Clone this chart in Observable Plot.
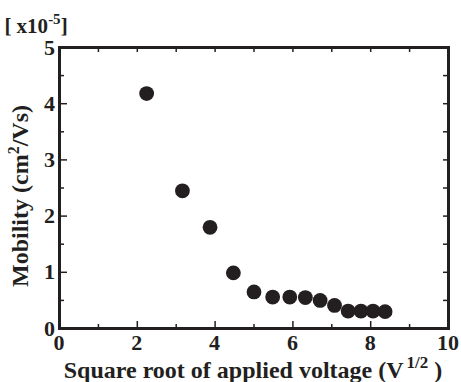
<!DOCTYPE html>
<html>
<head>
<meta charset="utf-8">
<script src="https://cdn.jsdelivr.net/npm/d3@7"></script>
<script src="https://cdn.jsdelivr.net/npm/@observablehq/plot@0.6"></script>
<style>
  html, body { margin: 0; padding: 0; background: #fff; }
  svg text { font-family: "Liberation Serif", "Times New Roman", serif; font-weight: bold; }
</style>
</head>
<body>
<div id="chart"></div>
<script>
// Square root of applied voltage (V^1/2)
const sqrtVoltage = [2.24, 3.16, 3.87, 4.47, 5.00, 5.48, 5.92, 6.32, 6.70, 7.07, 7.42, 7.75, 8.06, 8.37];
// Mobility in units of 1e-5 cm^2/Vs
const mobility = [4.18, 2.45, 1.80, 0.99, 0.65, 0.56, 0.56, 0.55, 0.50, 0.41, 0.31, 0.31, 0.31, 0.30];
const xTickLabels = [0, 2, 4, 6, 8, 10];
const yTickLabels = [0, 1, 2, 3, 4, 5];
const xMinorTicks = [1, 3, 5, 7, 9];
const yMinorTicks = [0.5, 1.5, 2.5, 3.5, 4.5];
const xAllTicks = [0, 1, 2, 3, 4, 5, 6, 7, 8, 9, 10];
const yAllTicks = [0, 0.5, 1, 1.5, 2, 2.5, 3, 3.5, 4, 4.5, 5];

const W = 461, H = 382, mL = 59, mR = 13, mT = 47, mB = 54;
const plotW = W - mL - mR, plotH = H - mT - mB;
const data = sqrtVoltage.map((x, i) => ({x, y: mobility[i]}));
const ink = "#231f20";
const tk = {stroke: ink, strokeWidth: 1.5};

const chart = Plot.plot({
  width: W,
  height: H,
  marginLeft: mL,
  marginRight: mR,
  marginTop: mT,
  marginBottom: mB,
  style: {fontFamily: "Liberation Serif", color: ink, background: "#fff", overflow: "visible"},
  x: {domain: [0, 10], axis: null},
  y: {domain: [0, 5], axis: null},
  marks: [
    // inward ticks: bottom (major longer), top, left (major longer), right
    Plot.tickX(xTickLabels, {x: d => d, insetTop: plotH - 7, ...tk}),
    Plot.tickX(xMinorTicks, {x: d => d, insetTop: plotH - 4, ...tk}),
    Plot.tickX(xAllTicks, {x: d => d, insetBottom: plotH - 5, ...tk}),
    Plot.tickY(yTickLabels, {y: d => d, insetRight: plotW - 8, ...tk}),
    Plot.tickY(yMinorTicks, {y: d => d, insetRight: plotW - 5, ...tk}),
    Plot.tickY(yAllTicks, {y: d => d, insetLeft: plotW - 5, ...tk}),
    Plot.frame({stroke: ink, strokeWidth: 3}),
    Plot.dot(data, {x: "x", y: "y", r: 7.4, fill: ink, stroke: null})
  ]
});
document.getElementById("chart").appendChild(chart);

const svg = d3.select(chart);
const xs = chart.scale("x"), ys = chart.scale("y");
// tick labels
xTickLabels.forEach(v => {
  svg.append("text").attr("x", xs.apply(v)).attr("y", H - mB + 22).attr("text-anchor", "middle")
    .attr("fill", ink).style("font-size", "22px").text(v);
});
yTickLabels.forEach(v => {
  svg.append("text").attr("x", mL - 4).attr("y", ys.apply(v) + 7.5).attr("text-anchor", "end")
    .attr("fill", ink).style("font-size", "22px").text(v);
});

// Exponent note
const note = svg.append("text").attr("x", 36).attr("y", 33).attr("fill", ink).style("font-size", "21px");
note.append("tspan").text("[ x10");
note.append("tspan").attr("dy", -9).style("font-size", "15px").text("-5");
note.append("tspan").attr("dy", 9).text("]");

// X title
const xt = svg.append("text").attr("x", 253).attr("y", 378).attr("text-anchor", "middle").attr("fill", ink).style("font-size", "24px");
xt.append("tspan").text("Square root of applied voltage (V");
xt.append("tspan").attr("dx", 3).attr("dy", -10).style("font-size", "17px").text("1/2");
xt.append("tspan").attr("dy", 10).text(" )");

// Y title
const yt = svg.append("text").attr("transform", "translate(28,196) rotate(-90)").attr("text-anchor", "middle").attr("fill", ink).style("font-size", "24px");
yt.append("tspan").text("Mobility (cm");
yt.append("tspan").attr("dy", -9).style("font-size", "16px").text("2");
yt.append("tspan").attr("dy", 9).text("/Vs)");
</script>
</body>
</html>
